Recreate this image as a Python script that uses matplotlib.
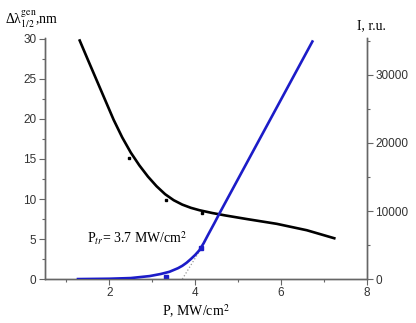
import numpy as np
import matplotlib.pyplot as plt
from matplotlib.ticker import MultipleLocator

plt.rcParams['mathtext.fontset'] = 'stix'

# linewidth curve (left axis)
p_width = [1.31, 1.5, 1.7, 1.9, 2.1, 2.3, 2.5, 2.7, 2.9, 3.1, 3.3, 3.5, 3.7,
           3.9, 4.1, 4.4, 4.7, 5.2, 5.9, 6.6, 7.24]
width = [29.8, 27.4, 24.9, 22.4, 19.9, 17.7, 15.8, 14.2, 12.8, 11.6, 10.6,
         9.85, 9.3, 8.9, 8.6, 8.25, 7.95, 7.5, 6.9, 6.1, 5.1]
p_width_pts = [2.45, 3.33, 4.17]
width_pts = [15.1, 9.9, 8.3]

# intensity curve (right axis)
p_int = [1.27, 2.0, 2.5, 2.94, 3.2, 3.4, 3.6, 3.7, 3.8, 3.9, 4.0, 4.1, 4.2,
         4.3, 4.45, 4.57, 4.96, 5.5, 6.1, 6.73]
intensity = [0, 50, 150, 440, 750, 1070, 1600, 1950, 2400, 2950, 3550, 4250,
             5300, 6500, 8250, 9700, 14250, 20550, 27550, 34900]
p_int_pts = [3.33, 4.14]
int_pts = [340, 4500]

# threshold tangent
p_tang = [3.7, 4.08]
int_tang = [0, 3900]

fig = plt.figure(figsize=(4.16, 3.23), dpi=100)
ax = fig.add_axes([0.108, 0.136, 0.774, 0.746])
ax2 = ax.twinx()

ax.plot(p_width, width, color='black', lw=1.9, zorder=3)
ax.plot(p_width_pts, width_pts, 's', color='black', ms=2)

ax2.plot(p_int, intensity, color='#1c1cc8', lw=1.9, zorder=3)
ax2.plot(p_int_pts, int_pts, 's', color='#1c1cc8', ms=2.5)
ax2.plot(p_tang, int_tang, ':', color='#999999', lw=0.9)

ax.set_xlim(0.5, 8)
ax.set_ylim(0, 30.1)
ax2.set_ylim(0, 35400)

ax.xaxis.set_major_locator(MultipleLocator(2))
ax.xaxis.set_minor_locator(MultipleLocator(1))
ax.yaxis.set_major_locator(MultipleLocator(5))
ax.yaxis.set_minor_locator(MultipleLocator(2.5))
ax2.yaxis.set_major_locator(MultipleLocator(10000))
ax2.yaxis.set_minor_locator(MultipleLocator(5000))

spine_col = '#666666'
for a in (ax, ax2):
    a.spines['top'].set_visible(False)
    for s in ('left', 'right', 'bottom'):
        a.spines[s].set_color(spine_col)
        a.spines[s].set_linewidth(1.0)
    a.tick_params(which='major', direction='out', length=4, width=0.8,
                  color=spine_col, labelsize=8.5, labelcolor='#333333', pad=2)
    a.tick_params(which='minor', direction='out', length=2.5, width=0.8,
                  color=spine_col)
    for lab in a.get_xticklabels() + a.get_yticklabels():
        lab.set_family('Liberation Sans')

fig.text(0.012, 0.938, r'Δλ$^{\rm gen}_{1/2}$,nm', fontsize=10,
         family='Liberation Serif', va='center', ha='left')
fig.text(0.858, 0.92, 'I, r.u.', fontsize=10, family='Liberation Serif',
         va='center', ha='left')
fig.text(0.47, 0.035, r'P, MW/cm$^{2}$', fontsize=10, family='Liberation Serif',
         va='center', ha='center')
ax.text(1.48, 5.1, r'P$_{tr}$= 3.7 MW/cm$^{2}$', fontsize=10,
        family='Liberation Serif', va='center', ha='left')

fig.savefig('out.png', dpi=100)
